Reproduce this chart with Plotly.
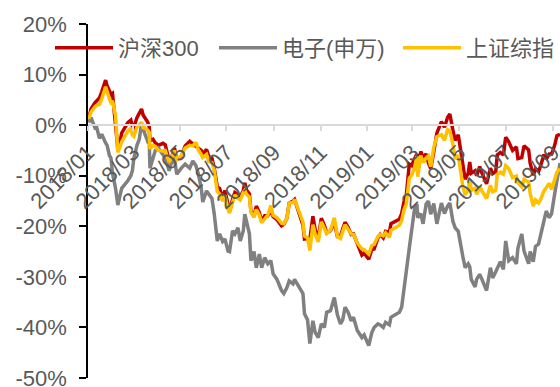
import plotly.graph_objects as go

dates = [
    "2018-01-02","2018-01-05","2018-01-10","2018-01-12","2018-01-16","2018-01-19","2018-01-24","2018-01-26",
    "2018-01-29","2018-01-31","2018-02-02","2018-02-06","2018-02-09","2018-02-12","2018-02-14","2018-02-22",
    "2018-02-26","2018-02-28","2018-03-02","2018-03-06","2018-03-09","2018-03-12","2018-03-14","2018-03-16",
    "2018-03-20","2018-03-22","2018-03-23","2018-03-27","2018-03-30","2018-04-03","2018-04-09","2018-04-12",
    "2018-04-17","2018-04-20","2018-04-24","2018-04-27","2018-05-03","2018-05-08","2018-05-14","2018-05-18",
    "2018-05-22","2018-05-25","2018-05-29","2018-05-31","2018-06-05","2018-06-08","2018-06-12","2018-06-15",
    "2018-06-19","2018-06-22","2018-06-26","2018-06-29","2018-07-03","2018-07-05","2018-07-09","2018-07-12",
    "2018-07-16","2018-07-19","2018-07-23","2018-07-25","2018-07-27","2018-07-31","2018-08-02","2018-08-06",
    "2018-08-09","2018-08-13","2018-08-16","2018-08-20","2018-08-24","2018-08-28","2018-08-31","2018-09-05",
    "2018-09-11","2018-09-14","2018-09-18","2018-09-21","2018-09-26","2018-09-28","2018-10-09","2018-10-11",
    "2018-10-15","2018-10-18","2018-10-22","2018-10-25","2018-10-29","2018-11-02","2018-11-06","2018-11-09",
    "2018-11-14","2018-11-19","2018-11-23","2018-11-27","2018-11-30","2018-12-03","2018-12-07","2018-12-11",
    "2018-12-14","2018-12-19","2018-12-25","2018-12-28","2019-01-03","2019-01-07","2019-01-10","2019-01-15",
    "2019-01-18","2019-01-22","2019-01-25","2019-01-30","2019-02-01","2019-02-12","2019-02-15","2019-02-18",
    "2019-02-21","2019-02-25","2019-02-28","2019-03-04","2019-03-07","2019-03-08","2019-03-12","2019-03-15",
    "2019-03-19","2019-03-22","2019-03-25","2019-03-29","2019-04-02","2019-04-08","2019-04-12","2019-04-16",
    "2019-04-19","2019-04-23","2019-04-26","2019-04-30","2019-05-06","2019-05-09","2019-05-13","2019-05-15",
    "2019-05-17","2019-05-22","2019-05-24","2019-05-28","2019-05-31","2019-06-06","2019-06-11","2019-06-14",
    "2019-06-18","2019-06-20","2019-06-24","2019-06-28","2019-07-01","2019-07-05","2019-07-10","2019-07-15",
    "2019-07-17","2019-07-22","2019-07-25","2019-07-31","2019-08-02","2019-08-06","2019-08-09","2019-08-13",
    "2019-08-16","2019-08-20","2019-08-23","2019-08-27","2019-08-30","2019-09-03","2019-09-06","2019-09-10",
]

hs300 = [
    1.4, 3.2, 4.4, 4.8, 5.4, 6.6, 8.9, 7.8,
    6.6, 6.1, 6.3, 0.8, -4.7, -3.3, -1.6, 0.5,
    1.0, -0.2, -0.4, 1.5, 2.2, 3.2, 2.0, 1.6,
    0.6, -0.3, -3.1, -2.8, -3.5, -4.0, -3.6, -3.9,
    -7.0, -6.6, -4.5, -6.8, -6.2, -4.1, -3.2, -3.7,
    -4.2, -4.5, -5.0, -5.7, -4.8, -6.2, -6.5, -8.5,
    -12.2, -12.5, -14.5, -12.9, -15.6, -17.1, -14.6, -13.3,
    -13.7, -14.3, -12.9, -11.4, -12.8, -13.6, -17.0, -18.1,
    -16.0, -17.3, -19.0, -17.9, -17.9, -16.9, -18.1, -18.7,
    -19.9, -19.6, -18.4, -15.4, -15.0, -14.7, -19.8, -22.5,
    -22.4, -22.6, -18.0, -20.7, -22.3, -18.4, -19.8, -21.3,
    -20.9, -19.2, -22.0, -22.0, -20.5, -19.2, -20.2, -21.6,
    -21.5, -23.3, -25.7, -25.3, -26.5, -24.6, -24.5, -22.3,
    -21.6, -22.3, -21.0, -21.2, -19.5, -18.6, -17.5, -15.2,
    -14.0, -7.7, -8.0, -6.6, -5.7, -9.3, -5.2, -6.4,
    -5.7, -7.5, -8.6, -5.3, -1.6, 0.7, -0.4, 1.5,
    2.2, -1.0, -3.0, -1.9, -8.5, -10.7, -9.5, -7.3,
    -9.5, -9.0, -10.0, -8.2, -9.5, -11.6, -8.5, -9.6,
    -9.2, -5.9, -5.4, -5.9, -2.4, -3.3, -5.0, -4.3,
    -6.6, -6.4, -4.1, -4.9, -7.5, -9.9, -8.6, -9.2,
    -7.9, -5.8, -6.7, -5.7, -5.7, -4.0, -2.1, -1.8,
]

dianzi = [
    0.5, 1.5, -0.5, -0.3, -2.6, -1.8, -3.5, -4.0,
    -6.0, -6.5, -9.5, -12.5, -15.8, -14.0, -12.5, -11.0,
    -10.0, -9.0, -6.5, -4.0, -2.8, 0.3, -1.0, -1.6,
    -3.2, -3.0, -8.5, -6.7, -5.0, -4.5, -5.7, -6.5,
    -9.0, -7.5, -6.5, -9.7, -8.5, -7.7, -8.5, -7.1,
    -8.0, -9.5, -12.4, -15.2, -13.0, -13.6, -14.5, -17.5,
    -22.9, -21.5, -23.0, -22.5, -24.9, -25.0, -20.9, -21.5,
    -20.3, -22.9, -20.9, -17.6, -19.0, -21.5, -26.8, -25.0,
    -28.2, -25.5, -28.2, -26.2, -27.4, -26.8, -29.4, -30.5,
    -32.7, -33.3, -32.1, -30.8, -31.4, -30.5, -33.3, -37.3,
    -38.5, -43.2, -38.7, -41.0, -42.0, -39.3, -40.0, -37.0,
    -36.7, -34.1, -37.5, -39.3, -38.5, -36.0, -37.0, -38.7,
    -38.0, -40.6, -42.0, -41.5, -43.6, -41.0, -40.0, -39.3,
    -39.5, -40.0, -39.0, -39.5, -38.0, -37.0, -36.0, -32.0,
    -29.0, -24.3, -20.5, -16.4, -15.6, -18.3, -17.5, -19.5,
    -15.6, -15.0, -17.6, -15.5, -19.5, -15.4, -17.5, -16.0,
    -15.4, -19.0, -20.3, -21.0, -26.0, -28.2, -27.4, -28.0,
    -30.5, -32.0, -30.5, -29.5, -30.5, -32.7, -28.2, -30.2,
    -29.0, -28.2, -27.0, -28.5, -22.9, -26.8, -26.2, -27.4,
    -24.3, -21.5, -24.9, -27.4, -25.0, -27.0, -24.0, -23.5,
    -21.5, -18.3, -17.0, -18.3, -17.5, -13.6, -10.5, -7.5,
]

szzz = [
    1.3, 2.6, 3.6, 3.9, 4.1, 5.2, 7.6, 6.4,
    5.2, 4.5, 4.8, 1.9, -5.4, -4.3, -3.3, -1.2,
    -0.6, -1.9, -2.2, -0.4, 0.0, 0.6, -0.5, -0.5,
    -1.0, -1.4, -4.7, -4.0, -4.2, -5.0, -5.1, -5.0,
    -7.3, -6.6, -5.0, -6.8, -6.0, -4.5, -4.0, -4.1,
    -3.4, -4.8, -5.8, -6.4, -5.8, -7.2, -7.4, -8.9,
    -13.1, -13.6, -15.0, -13.9, -16.6, -17.4, -15.3, -13.8,
    -14.5, -14.8, -13.3, -12.9, -13.6, -14.2, -17.2, -18.2,
    -16.7, -17.8, -19.3, -18.4, -17.8, -15.9, -17.8, -18.3,
    -19.4, -19.5, -18.4, -15.4, -15.3, -14.7, -19.2, -21.9,
    -22.3, -24.8, -19.7, -21.6, -23.1, -19.1, -20.6, -21.4,
    -20.8, -18.3, -22.0, -22.4, -21.0, -19.7, -20.6, -21.5,
    -21.6, -23.3, -24.5, -24.6, -25.5, -23.8, -23.6, -22.0,
    -21.6, -21.9, -21.3, -22.2, -20.8, -19.8, -18.9, -16.8,
    -15.6, -10.5, -9.9, -8.4, -6.1, -10.2, -6.0, -7.4,
    -6.5, -6.1, -8.2, -4.4, -2.3, -1.9, -3.0, -0.9,
    -1.1, -3.8, -6.7, -5.9, -12.1, -13.8, -12.8, -10.7,
    -12.9, -12.5, -13.7, -12.1, -13.0, -14.5, -11.9, -13.2,
    -12.9, -9.7, -9.3, -9.7, -8.0, -8.6, -10.4, -10.1,
    -11.4, -12.2, -10.7, -11.3, -13.5, -16.0, -14.8, -15.4,
    -14.6, -13.0, -12.4, -11.5, -12.7, -10.9, -9.3, -8.6,
]

tick_vals = [-50, -40, -30, -20, -10, 0, 10, 20]
tick_text = ["-50%", "-40%", "-30%", "-20%", "-10%", "0%", "10%", "20%"]

FONT = "Liberation Sans, Arial, Noto Sans CJK SC, sans-serif"
TXT = "#595959"
W, H = 560, 387

fig = go.Figure()
fig.add_trace(go.Scatter(x=dates, y=hs300, name="沪深300", mode="lines", legend="legend",
                         line=dict(color="#C00000", width=3.5)))
fig.add_trace(go.Scatter(x=dates, y=dianzi, name="电子(申万)", mode="lines", legend="legend2",
                         line=dict(color="#808080", width=3.5)))
fig.add_trace(go.Scatter(x=dates, y=szzz, name="上证综指", mode="lines", legend="legend3",
                         line=dict(color="#FFC000", width=3.5)))


def leg(px):
    return dict(orientation="h", xref="container", yref="container",
                x=px / W, y=1 - 48 / H, xanchor="left", yanchor="middle",
                bgcolor="rgba(0,0,0,0)", itemwidth=58,
                font=dict(family=FONT, size=22, color=TXT))


fig.update_layout(
    width=W, height=H,
    margin=dict(l=88, r=0, t=24, b=9, autoexpand=False),
    paper_bgcolor="white", plot_bgcolor="white",
    font=dict(family=FONT, size=22, color=TXT),
    showlegend=True,
    legend=leg(50), legend2=leg(214), legend3=leg(398),
    xaxis=dict(
        type="date",
        range=["2018-01-01", "2019-09-10"],
        tick0="2018-01-01", dtick="M2", tickformat="%Y/%m",
        tickangle=-45,
        anchor="free", position=50/70,
        showline=True, linecolor="#D9D9D9", linewidth=1.5,
        ticks="outside", ticklen=5, tickcolor="#D9D9D9", tickwidth=1.5,
        showgrid=False, zeroline=False,
        ticklabeloverflow="allow",
        tickfont=dict(family=FONT, size=22, color=TXT),
    ),
    yaxis=dict(
        range=[-50, 20],
        tickvals=tick_vals, ticktext=tick_text,
        showline=True, linecolor="black", linewidth=1.5,
        ticks="outside", ticklen=7, tickcolor="black", tickwidth=1.5,
        showgrid=False, zeroline=False,
        ticklabelstandoff=8,
        ticklabeloverflow="allow",
        tickfont=dict(family=FONT, size=22, color=TXT),
    ),
)

fig.write_html("out.html",
               config={"displayModeBar": False},
               post_script="document.body.style.margin='0';document.body.style.overflow='hidden';")
